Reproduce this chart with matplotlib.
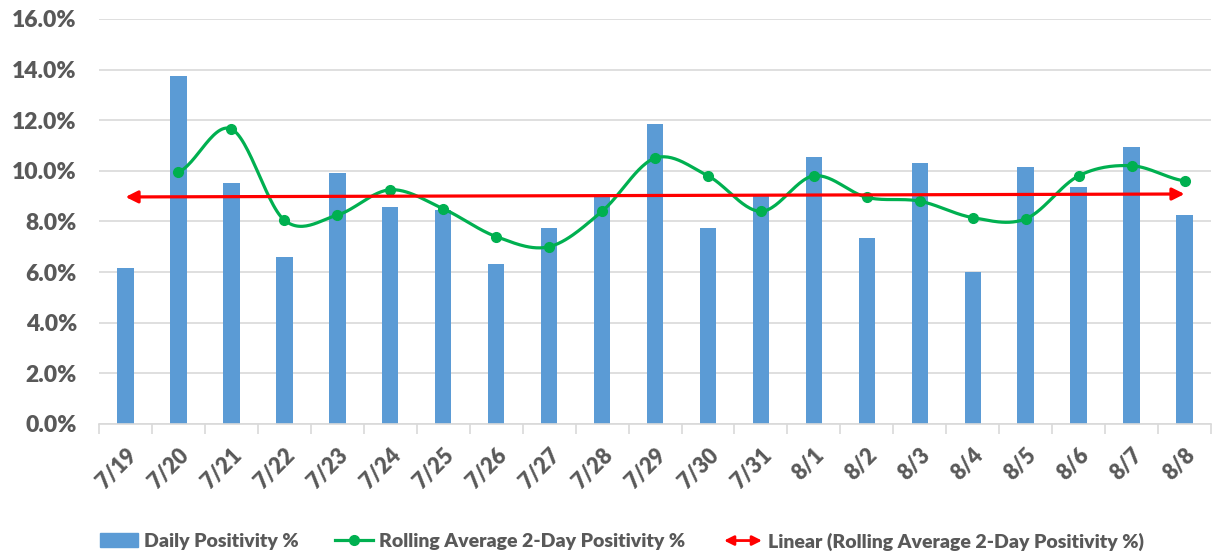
import numpy as np
import matplotlib
matplotlib.use("Agg")
import matplotlib.pyplot as plt
from matplotlib.patches import Patch, FancyArrowPatch
from matplotlib.lines import Line2D
from matplotlib.legend_handler import HandlerPatch

plt.rcParams['font.family'] = ['Lato', 'DejaVu Sans']
plt.rcParams['font.weight'] = 'heavy'

dates = ["7/19", "7/20", "7/21", "7/22", "7/23", "7/24", "7/25", "7/26", "7/27", "7/28",
         "7/29", "7/30", "7/31", "8/1", "8/2", "8/3", "8/4", "8/5", "8/6", "8/7", "8/8"]
daily = [6.15, 13.75, 9.5, 6.6, 9.9, 8.55, 8.45, 6.3, 7.75, 9.05,
         11.85, 7.75, 9.0, 10.55, 7.35, 10.3, 6.0, 10.15, 9.35, 10.95, 8.25]
rolling = [None, 9.95, 11.65, 8.05, 8.25, 9.25, 8.5, 7.4, 7.0, 8.4,
           10.5, 9.8, 8.4, 9.8, 8.95, 8.8, 8.15, 8.1, 9.8, 10.2, 9.6]

text_col = "#595959"
bar_col = "#5B9BD5"
green = "#00B050"
red = "#FF0000"

x = np.arange(len(dates))
rx = np.array([i for i, v in enumerate(rolling) if v is not None], dtype=float)
ry = np.array([v for v in rolling if v is not None])


def smooth(px, py, n=30):
    # catmull-rom, similar to excel's smoothed line
    px = np.concatenate([[2 * px[0] - px[1]], px, [2 * px[-1] - px[-2]]])
    py = np.concatenate([[py[0]], py, [py[-1]]])
    xs, ys = [], []
    for i in range(1, len(px) - 2):
        t = np.linspace(0, 1, n)
        p0, p1, p2, p3 = [np.array([px[j], py[j]]) for j in range(i - 1, i + 3)]
        c1 = p1 + (p2 - p0) / 6
        c2 = p2 - (p3 - p1) / 6
        pts = ((1 - t) ** 3)[:, None] * p1 + (3 * (1 - t) ** 2 * t)[:, None] * c1 \
            + (3 * (1 - t) * t ** 2)[:, None] * c2 + (t ** 3)[:, None] * p2
        xs.extend(pts[:, 0])
        ys.extend(pts[:, 1])
    return np.array(xs), np.array(ys)


fig = plt.figure(figsize=(12.12, 5.57), dpi=100)
ax = fig.add_axes([0.0817, 0.239, 0.9175, 0.727])

ax.bar(x, daily, width=0.31, color=bar_col, zorder=2)

sx, sy = smooth(rx, ry)
ax.plot(sx, sy, color=green, lw=2.3, zorder=3)
ax.plot(rx, ry, 'o', color=green, ms=7, zorder=4)

# linear trendline over the rolling average
k, b = np.polyfit(rx + 1, ry, 1)
ax.annotate("", xy=(x[-1], k * (x[-1] + 1) + b), xytext=(x[0], k * (x[0] + 1) + b),
            arrowprops=dict(arrowstyle='<|-|>', color=red, lw=2.3, mutation_scale=18,
                            shrinkA=0, shrinkB=0), zorder=5)

ax.set_xlim(-0.5, len(dates) - 0.5)
ax.set_ylim(0, 16)
ax.set_yticks(np.arange(0, 17, 2))
ax.set_yticklabels([f"{v:.1f}%" for v in np.arange(0, 17, 2)], fontsize=16.5, color=text_col)
ax.yaxis.grid(True, color="#D9D9D9", lw=1.2, zorder=0)
ax.set_axisbelow(True)
ax.tick_params(axis='y', length=0, pad=16)

ax.set_xticks(x)
ax.set_xticklabels(dates, rotation=45, ha='right', rotation_mode='anchor',
                   fontsize=15.5, color=text_col)
ax.tick_params(axis='x', length=0, pad=15)
ax.set_xticks(np.arange(-0.5, len(dates)), minor=True)
ax.tick_params(axis='x', which='minor', length=7, color="#D9D9D9", width=1.2)

for s in ['top', 'right', 'left']:
    ax.spines[s].set_visible(False)
ax.spines['bottom'].set_color("#D9D9D9")
ax.spines['bottom'].set_linewidth(1.2)


class ArrowHandler(HandlerPatch):
    def create_artists(self, legend, orig_handle, xdescent, ydescent, width, height, fontsize, trans):
        a = FancyArrowPatch((-xdescent, height / 2 - ydescent), (width - xdescent, height / 2 - ydescent),
                            arrowstyle='<|-|>', mutation_scale=14, color=red, lw=2, shrinkA=0, shrinkB=0)
        a.set_transform(trans)
        return [a]


h_bar = Patch(color=bar_col)
h_line = Line2D([], [], color=green, lw=2.3, marker='o', ms=7)
h_arrow = FancyArrowPatch((0, 0), (1, 1))
labels = ["Daily Positivity %", "Rolling Average 2-Day Positivity %",
          "Linear (Rolling Average 2-Day Positivity %)"]
starts = [0.0825, 0.2764, 0.5974]
for h, lab, x0 in zip([h_bar, h_line, h_arrow], labels, starts):
    fig.legend([h], [lab], handler_map={FancyArrowPatch: ArrowHandler()},
               loc='center left', bbox_to_anchor=(x0, 0.028), frameon=False,
               borderpad=0, borderaxespad=0,
               fontsize=14, labelcolor=text_col, handlelength=1.95, handletextpad=0.3)

fig.savefig("out.png", dpi=100)
